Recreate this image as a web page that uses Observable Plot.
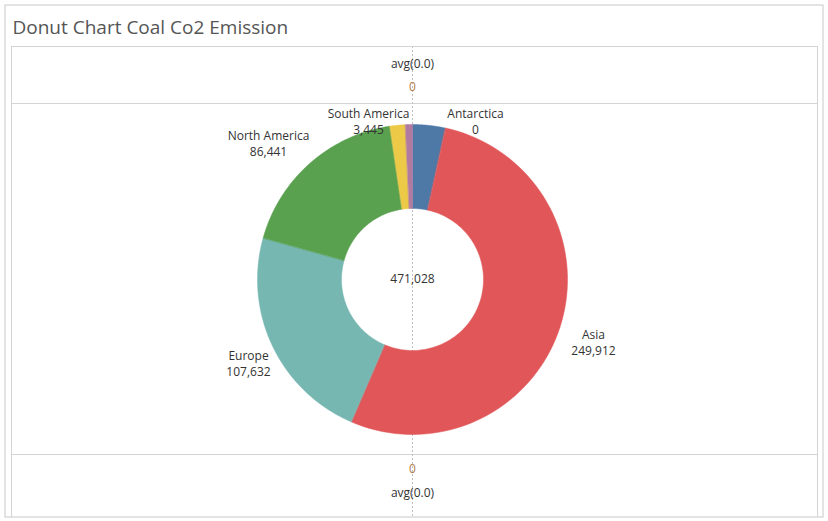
<!DOCTYPE html>
<html><head><meta charset="utf-8">
<script src="https://cdn.jsdelivr.net/npm/d3@7"></script>
<script src="https://cdn.jsdelivr.net/npm/@observablehq/plot@0.6"></script>
<style>body{margin:0;background:#fff;font-family:"Open Sans",Lato,sans-serif}</style>
</head><body><div id="chart"></div>
<script>
const continents = ['Africa','Antarctica','Asia','Europe','North America','Oceania','South America']
const emissions = [16100, 0, 249912, 107632, 86441, 7498, 3445]
const colors = ['#4e79a7','#f28e2b','#e15759','#76b7b2','#59a14f','#edc948','#b07aa1']
const labelled = ['Antarctica','Asia','Europe','North America','South America']
const labelPos = {'Antarctica':[475,114],'Asia':[593,335],'Europe':[248,356],'North America':[268,136],'South America':[368,114]}
const total = 471028

const cx = 412, cy = 279, r0 = 71, r1 = 155
const arcs = d3.pie().sort(null).value(d => d.v)(continents.map((c, i) => ({c, v: emissions[i], col: colors[i]})))
const pts = []
arcs.forEach(a => {
  if (a.endAngle - a.startAngle <= 0) return
  const n = 80, ring = []
  for (let k = 0; k <= n; k++) ring.push([a.startAngle + (a.endAngle - a.startAngle) * k / n, r1])
  for (let k = n; k >= 0; k--) ring.push([a.startAngle + (a.endAngle - a.startAngle) * k / n, r0])
  ring.forEach(([t, r]) => pts.push({c: a.data.c, col: a.data.col, x: cx + r * Math.sin(t), y: cy - r * Math.cos(t)}))
})
const labels = labelled.map(c => ({c, v: emissions[continents.indexOf(c)], x: labelPos[c][0], y: labelPos[c][1]}))

const chart = Plot.plot({
  width: 828, height: 521, margin: 0,
  x: {domain: [0, 828], axis: null},
  y: {domain: [521, 0], axis: null},
  style: {fontFamily: '"Open Sans", Lato, sans-serif', background: '#fff'},
  marks: [
    Plot.rect([0], {x1: 5, x2: 823, y1: 5, y2: 517, fill: 'none', stroke: '#c8c8c8'}),
    Plot.ruleY([103, 454], {x1: 11, x2: 817, stroke: '#d4d4d4'}),
    Plot.ruleX([412], {y1: 46, y2: 517, stroke: '#c0c0c0', strokeDasharray: '2,2'}),
    Plot.ruleX([817], {y1: 46, y2: 517, stroke: '#d4d4d4'}),
    Plot.ruleX([11], {y1: 46, y2: 517, stroke: '#d4d4d4'}),
    Plot.ruleY([46], {x1: 11, x2: 817, stroke: '#d4d4d4'}),
    Plot.line(pts, {x: 'x', y: 'y', z: 'c', fill: 'col', stroke: 'col', strokeWidth: 0.5, curve: 'linear-closed'}),
    Plot.text(['Donut Chart Coal Co2 Emission'], {x: 12, y: 27, text: d => d, textAnchor: 'start', fontSize: 19, fill: '#555'}),
    Plot.text(['avg(0.0)'], {x: 412, y: 64, text: d => d, fontSize: 12, fill: '#333'}),
    Plot.text(['avg(0.0)'], {x: 412, y: 493, text: d => d, fontSize: 12, fill: '#333'}),
    Plot.text(['0'], {x: 412, y: 87, text: d => d, fontSize: 12, fill: '#b07a4a'}),
    Plot.text(['0'], {x: 412, y: 469, text: d => d, fontSize: 12, fill: '#b07a4a'}),
    Plot.text([total], {x: 412, y: 279, text: d => d3.format(',')(d), fontSize: 12, fill: '#333'}),
    Plot.text(labels, {x: 'x', y: 'y', text: 'c', fontSize: 12, fill: '#333'}),
    Plot.text(labels, {x: 'x', y: d => d.y + 16, text: d => d3.format(',')(d.v), fontSize: 12, fill: '#333'})
  ]
})
d3.select('#chart').append(() => chart)
</script></body></html>
